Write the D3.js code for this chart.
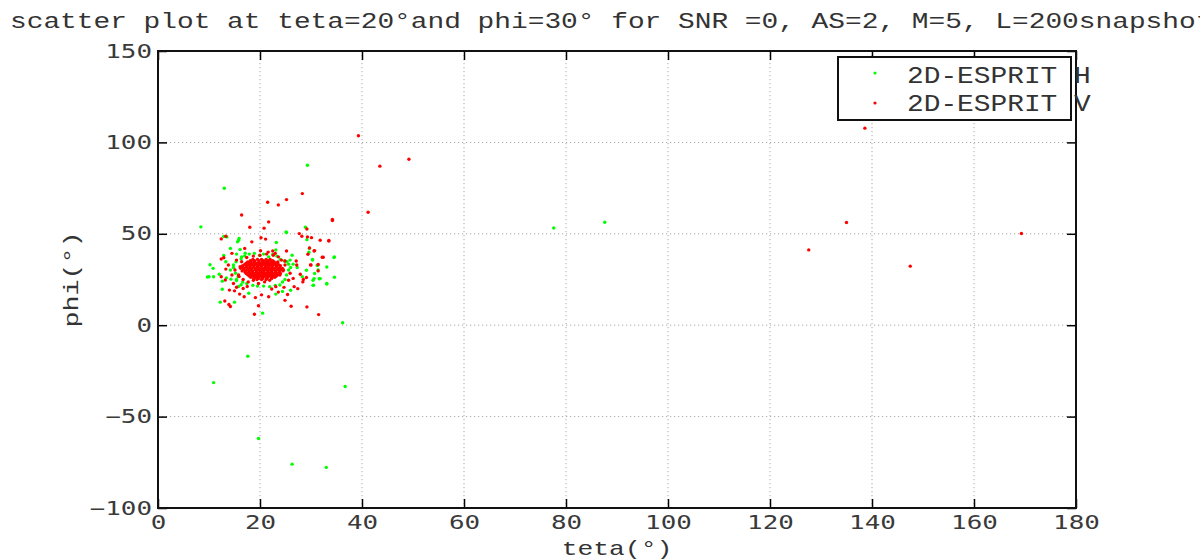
<!DOCTYPE html>
<html>
<head>
<meta charset="utf-8">
<script src="https://cdn.jsdelivr.net/npm/d3@7"></script>
<style>
  body { margin:0; background:#fff; }
  svg { display:block; }
</style>
</head>
<body>
<svg id="chart"></svg>
<script>
const W = 1200, H = 560;

const TITLE = 'scatter plot at teta=20°and phi=30° for SNR =0, AS=2, M=5, L=200snapshots';
const X_LABEL = 'teta(°)', Y_LABEL = 'phi(°)';
const X_TICKS = [0, 20, 40, 60, 80, 100, 120, 140, 160, 180];
const Y_TICKS = [-100, -50, 0, 50, 100, 150];
const SERIES = ['2D-ESPRIT H', '2D-ESPRIT V'];

// [teta, phi] estimates, 2D-ESPRIT H (green)
const ptsH = [
  [77.6,53.2],[87.6,56.3],[36.2,1.3],[17.6,-17],[10.9,-31.4],[36.7,-33.5],[19.7,-62],[26.3,-76],[33,-77.8],
  [29.3,87.5],[13.0,74.9],[8.4,53.8],[28.9,53.6],[25.2,50.7],[25.1,51.0],[12.9,48.5],[13.5,48.3],[15.9,47.4],
  [15.8,46.5],[15.6,45.6],[23.2,45.2],[29.2,46.8],[29.7,42.1],[34.5,37.0],[30.3,35.9],[31.2,32.7],[31.4,30.2],
  [30.7,28.3],[31.6,25.4],[33.1,22.5],[34.6,26.2],[30.4,21.8],[28.3,26.5],[27.3,31.6],[26.5,33.4],[25.9,35.6],
  [26.3,38.3],[23.1,41.1],[17.1,39.4],[16.1,41.4],[15.4,38.9],[14.2,42.0],[10.2,33.1],[10.8,31.1],[10.0,26.5],
  [9.7,26.4],[10.9,26.5],[12.0,27.9],[12.6,24.1],[12.6,19.7],[15.8,21.2],[17.8,17.5],[12.2,12.6],[15.0,12.6],
  [20.5,6.6],[24.4,18.5],[23.1,17.0],[26.0,19.1],[30.4,24.6],[33.1,31.8],[34.6,37.4],[31.3,32.8],[30.3,35.7],
  [29.6,39.9],[31.7,25.5],[30.5,21.9],[30.6,25.5],[29.1,30.1],[33.1,22.8],[31.8,25.5],
  [12.9,38.1],[13.3,34.7],[14.2,30.2],[13.4,25.9],[14.3,25.2],[14.8,31.6],[15.3,34.7],[16.3,36.3],[16.4,37.4],
  [15.7,26.6],[16.3,22.1],[17.0,37.9],[17.9,38.9],[18.9,39.3],[19.9,38.2],[20.7,38.9],[21.7,37.4],[22.5,38.7],
  [23.3,37.8],[24.0,36.0],[24.8,35.1],[25.3,34.7],[25.6,33.4],[26.0,31.6],[25.6,30.2],[25.2,27.5],[24.9,25.0],
  [24.4,23.6],[23.9,22.0],[23.0,21.8],[21.9,21.1],[20.7,21.4],[19.5,21.4],[18.6,21.8],[17.4,22.8],[16.6,23.6],
  [15.4,24.4],[15.2,28.4],[14.8,32.9],[15.4,25.0]
];

// [teta, phi] estimates, 2D-ESPRIT V (red)
const ptsV = [
  [39.3,103.6],[43.5,87],[49.2,90.8],[41.2,61.8],[127.6,41.2],[135,56.2],[138.6,107.8],[147.5,32.3],[169.3,50.2],
  [28.3,72],[21.5,67.3],[23.6,65.8],[25.2,68.7],[16.4,60.3],[21.7,56.5],[18,53.6],[34.2,57.3],[29.2,52.6],
  [20.8,53.1],[13.3,48.7],[12.4,47.2],[20.2,47.8],[18.4,45.6],[21.1,47.1],[27.7,50.1],[28.2,48.7],[29.3,48.3],
  [30.1,47.9],[31.8,46.5],[33.5,46.1],[30.7,40.8],[32.4,37.2],[29.4,38.8],[30.0,32.9],[31.4,33.2],[29.1,26.1],
  [27.9,27.9],[27.1,35.1],[25.2,40.6],[24.9,35.1],[23.0,39.3],[22.5,40.6],[21.6,40.0],[20.1,40.7],[17.0,42.0],
  [14.5,39.3],[12.9,36.9],[12.4,36.2],[12.4,26.5],[13.3,30.7],[13.2,24.7],[14.0,19.2],[15.0,18.8],[15.4,20.8],
  [16.7,20.1],[17.5,21.2],[16.9,15.6],[16.0,17.0],[13.1,13.2],[13.9,11.3],[14.2,10.2],[19.1,15.1],[20.3,16.6],
  [19.7,10.6],[18.9,6.0],[21.7,15.6],[22.3,19.8],[23.1,21.1],[23.6,18.1],[24.7,20.7],[25.4,16.8],[24.9,13.6],
  [26.1,10.4],[26.7,21.1],[27.4,20.0],[28.4,23.7],[29.2,10.0],[31.5,5.8],[31.4,29.7],[32.2,37.2],[30.6,40.6],
  [29.7,42.3],[28.5,25.0],[29.9,33.0],[33.5,46.3],[34.2,57.8],
  [15.4,35.6],[16.1,32.0],[15.1,30.2],[15.9,26.6],[16.7,25.0],[17.7,23.7],[18.7,24.6],[19.7,22.8],[20.9,23.7],
  [21.9,24.6],[22.9,26.2],[23.9,27.5],[24.6,30.2],[24.9,32.9],[24.2,35.6],[23.6,37.4],[22.6,38.3],[21.3,38.9],
  [20.0,38.3],[18.7,37.8],[17.4,37.0],[16.4,34.7],[15.8,27.5],[14.5,27.5],[13.8,32.9],[14.8,22.8],[19.3,26.6],
  [25.9,28.4],[26.5,25.6],[25.6,24.6],[27.2,32.9],
  // dense core
  [18.6,36.0],[19.5,36.0],[20.3,36.0],[21.2,36.0],[22.0,36.0],
  [18.1,35.3],[18.9,35.3],[19.8,35.3],[20.7,35.3],[21.6,35.3],[22.5,35.3],
  [17.6,34.6],[18.3,34.6],[19.0,34.6],[19.8,34.6],[20.5,34.6],[21.3,34.6],[22.1,34.6],[22.8,34.6],[23.5,34.6],
  [17.3,33.9],[18.0,33.9],[18.8,33.9],[19.5,33.9],[20.2,33.9],[21.0,33.9],[21.7,33.9],[22.5,33.9],[23.2,33.9],
  [17.0,33.2],[17.7,33.2],[18.4,33.2],[19.2,33.2],[19.9,33.2],[20.6,33.2],[21.4,33.2],[22.1,33.2],[22.9,33.2],[23.6,33.2],
  [16.6,32.5],[17.4,32.5],[18.1,32.5],[18.8,32.5],[19.6,32.5],[20.3,32.5],[21.1,32.5],[21.8,32.5],[22.5,32.5],[23.3,32.5],[24.0,32.5],
  [16.6,31.8],[17.3,31.8],[18.0,31.8],[18.8,31.8],[19.5,31.8],[20.2,31.8],[21.0,31.8],[21.7,31.8],[22.4,31.8],[23.2,31.8],[23.9,31.8],
  [16.2,31.1],[16.9,31.1],[17.7,31.1],[18.4,31.1],[19.2,31.1],[19.9,31.1],[20.7,31.1],[21.4,31.1],[22.2,31.1],[22.9,31.1],[23.7,31.1],[24.4,31.1],
  [16.8,30.4],[17.5,30.4],[18.2,30.4],[19.0,30.4],[19.7,30.4],[20.4,30.4],[21.1,30.4],[21.9,30.4],[22.6,30.4],[23.4,30.4],[24.1,30.4],
  [16.5,29.7],[17.2,29.7],[17.9,29.7],[18.6,29.7],[19.4,29.7],[20.1,29.7],[20.8,29.7],[21.6,29.7],[22.3,29.7],[23.0,29.7],[23.8,29.7],[24.5,29.7],
  [17.1,29.0],[17.8,29.0],[18.5,29.0],[19.3,29.0],[20.0,29.0],[20.7,29.0],[21.5,29.0],[22.2,29.0],[23.0,29.0],[23.7,29.0],
  [17.3,28.3],[18.1,28.3],[18.8,28.3],[19.6,28.3],[20.3,28.3],[21.0,28.3],[21.8,28.3],[22.5,28.3],[23.3,28.3],[24.0,28.3],
  [17.6,27.6],[18.4,27.6],[19.1,27.6],[19.8,27.6],[20.6,27.6],[21.3,27.6],[22.1,27.6],[22.8,27.6],[23.5,27.6],
  [17.9,26.9],[18.7,26.9],[19.5,26.9],[20.2,26.9],[21.0,26.9],[21.7,26.9],[22.5,26.9],[23.2,26.9],
  [18.2,26.2],[19.0,26.2],[19.8,26.2],[20.6,26.2],[21.4,26.2],[22.2,26.2],
  [18.8,25.6],[19.7,25.6],[20.5,25.6],[21.4,25.6],[22.3,25.6],
  [19.4,25.0],[20.3,25.0],[21.2,25.0]
];

const COLORS = ['#00ff00', '#ff0000'];

const margin = {left:158, right:124, top:51, bottom:52};
const x = d3.scaleLinear().domain([0, 180]).range([margin.left, W - margin.right]);
const y = d3.scaleLinear().domain([-100, 150]).range([H - margin.bottom, margin.top]);

const svg = d3.select('#chart').attr('width', W).attr('height', H);

// stretched monospace text (the picture is wider than it is tall)
function stretch(sel, cw) {
  sel.each(function() {
    const t = d3.select(this);
    t.attr('textLength', t.text().length * cw).attr('lengthAdjust', 'spacingAndGlyphs');
  });
}

// grid
const grid = svg.append('g').attr('stroke', '#a8a8a8').attr('stroke-width', 1)
  .attr('stroke-dasharray', '1.2,2.8');
grid.selectAll('line.gx').data(X_TICKS.slice(1, -1)).join('line')
  .attr('x1', d => x(d)).attr('x2', d => x(d)).attr('y1', y(150)).attr('y2', y(-100));
grid.selectAll('line.gy').data(Y_TICKS.slice(1, -1)).join('line')
  .attr('x1', x(0)).attr('x2', x(180)).attr('y1', d => y(d)).attr('y2', d => y(d));

// points
const pg = svg.append('g');
[ptsH, ptsV].forEach((pts, i) => {
  pg.append('g').selectAll('circle').data(pts).join('circle')
    .attr('cx', d => x(d[0])).attr('cy', d => y(d[1]))
    .attr('r', 1.7).attr('fill', COLORS[i]);
});

// axes (ticks inward)
const tickFont = g => {
  g.select('.domain').remove();
  g.selectAll('.tick line').attr('stroke', '#000').attr('stroke-width', 1.5);
  g.selectAll('text').attr('fill', '#3a3a3a').attr('font-family', 'DejaVu Sans Mono')
    .attr('font-size', 19).call(stretch, 15.6);
};
svg.append('g').attr('transform', `translate(0,${y(-100)})`)
  .call(d3.axisBottom(x).tickValues(X_TICKS).tickFormat(d3.format('d')).tickSizeInner(-9).tickSizeOuter(0).tickPadding(8))
  .call(tickFont);
svg.append('g').attr('transform', `translate(${x(0)},0)`)
  .call(d3.axisLeft(y).tickValues(Y_TICKS).tickFormat(d => d < 0 ? '\u2212' + (-d) : d).tickSizeInner(-9).tickSizeOuter(0).tickPadding(6))
  .call(tickFont);
svg.append('g').attr('transform', `translate(0,${y(150)})`)
  .call(d3.axisTop(x).tickValues(X_TICKS).tickFormat('').tickSizeInner(-9).tickSizeOuter(0))
  .call(tickFont);
svg.append('g').attr('transform', `translate(${x(180)},0)`)
  .call(d3.axisRight(y).tickValues(Y_TICKS).tickFormat('').tickSizeInner(-9).tickSizeOuter(0))
  .call(tickFont);

// box
svg.append('rect').attr('x', x(0)).attr('y', y(150))
  .attr('width', x(180) - x(0)).attr('height', y(-100) - y(150))
  .attr('fill', 'none').attr('stroke', '#111').attr('stroke-width', 2);

// title and axis labels
svg.append('text').attr('x', 10).attr('y', 28)
  .attr('font-family', 'Liberation Mono').attr('font-size', 22).attr('fill', '#333')
  .text(TITLE).call(stretch, 16.7);
svg.append('text').attr('x', (x(0) + x(180)) / 2).attr('y', 555).attr('text-anchor', 'middle')
  .attr('font-family', 'Liberation Mono').attr('font-size', 21).attr('fill', '#333')
  .text(X_LABEL).call(stretch, 15.8);
svg.append('text').attr('transform', `translate(78,${(y(150) + y(-100)) / 2}) rotate(-90)`)
  .attr('text-anchor', 'middle')
  .attr('font-family', 'Liberation Mono').attr('font-size', 21).attr('fill', '#333')
  .text(Y_LABEL).call(stretch, 16);

// legend
const lg = svg.append('g');
lg.append('rect').attr('x', 838).attr('y', 57).attr('width', 233).attr('height', 63)
  .attr('fill', '#fff').attr('stroke', '#111').attr('stroke-width', 2);
SERIES.forEach((s, i) => {
  lg.append('circle').attr('cx', 875).attr('cy', 73 + i * 30).attr('r', 1.6).attr('fill', COLORS[i]);
  lg.append('text').attr('x', 907).attr('y', 83 + i * 28)
    .attr('font-family', 'Liberation Mono').attr('font-size', 23).attr('fill', '#333')
    .text(s).call(stretch, 16.7);
});
</script>
</body>
</html>
